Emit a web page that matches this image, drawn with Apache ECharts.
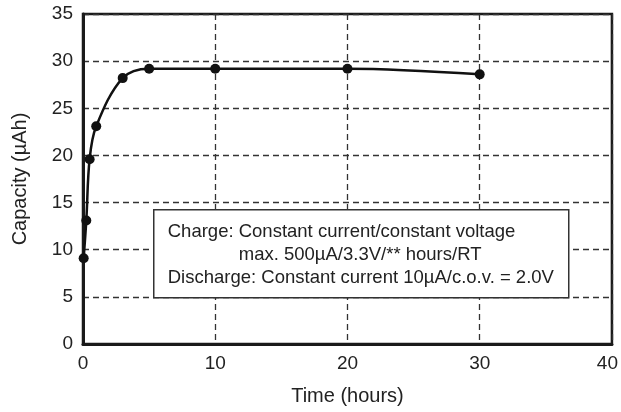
<!DOCTYPE html>
<html>
<head>
<meta charset="utf-8">
<script src="https://cdn.jsdelivr.net/npm/echarts@6/dist/echarts.min.js"></script>
<style>
    html, body { margin: 0; padding: 0; background: #fff; }
    #chart { width: 621px; height: 412px; }
</style>
</head>
<body>
<div id="chart"></div>
<script>
// 数据
const timeHours = [0.05, 0.25, 0.5, 1, 3, 5, 10, 20, 30];
const capacity = [9.1, 13.1, 19.6, 23.1, 28.2, 29.2, 29.2, 29.2, 28.6];
const noteLines = [
    'Charge: Constant current/constant voltage',
    'max. 500\u00b5A/3.3V/** hours/RT',
    'Discharge: Constant current 10\u00b5A/c.o.v. = 2.0V'
];

const font = '"Liberation Sans", Arial, Helvetica, sans-serif';
const textColor = '#222';

const chart = echarts.init(document.getElementById('chart'));

const gridLine = {
    show: true,
    lineStyle: { color: '#333', width: 1.3, type: [6, 4] }
};

// 说明框文字
function noteText(i, x, y) {
    return {
        type: 'text',
        x: x, y: y, z: 101,
        style: { text: noteLines[i], font: '18.5px ' + font, fill: textColor, textVerticalAlign: 'middle' }
    };
}

chart.setOption({
    animation: false,
    grid: {
        left: 83, right: 8, top: 14, bottom: 68,
        show: true, borderColor: '#1a1a1a', borderWidth: 2.5
    },
    xAxis: {
        type: 'value',
        min: 0, max: 40, interval: 10,
        name: 'Time (hours)',
        nameLocation: 'middle',
        nameGap: 42,
        nameTextStyle: { fontFamily: font, fontSize: 20, color: textColor },
        axisLine: { show: true, onZero: false, lineStyle: { color: '#1a1a1a', width: 3 } },
        axisTick: { show: false },
        axisLabel: {
            fontFamily: font, fontSize: 19, color: textColor, margin: 10,
            formatter: v => v === 40 ? '{r|40}' : String(v),
            rich: { r: { fontFamily: font, fontSize: 19, color: textColor, padding: [0, 9, 0, 0] } }
        },
        splitLine: gridLine
    },
    yAxis: {
        type: 'value',
        min: 0, max: 35, interval: 5,
        name: 'Capacity (\u00b5Ah)',
        nameLocation: 'middle',
        nameGap: 53,
        nameTextStyle: { fontFamily: font, fontSize: 20, color: textColor },
        axisLine: { show: true, lineStyle: { color: '#1a1a1a', width: 3 } },
        axisTick: { show: false },
        axisLabel: { fontFamily: font, fontSize: 19, color: textColor, margin: 10 },
        splitLine: gridLine
    },
    series: [{
        type: 'line',
        data: timeHours.map((t, i) => [t, capacity[i]]),
        smooth: 0.35,
        symbol: 'circle',
        symbolSize: 10,
        itemStyle: { color: '#111' },
        lineStyle: { color: '#111', width: 2.5 },
        z: 5
    }],
    graphic: [{
        type: 'group',
        left: 153, top: 209,
        z: 100,
        children: [{
            type: 'rect',
            z: 100,
            shape: { x: 0, y: 0, width: 415, height: 88 },
            style: { fill: '#fff', stroke: '#333', lineWidth: 1.5 }
        },
        noteText(0, 14, 22),
        noteText(1, 85, 45),
        noteText(2, 14, 68)]
    }]
});
</script>
</body>
</html>
